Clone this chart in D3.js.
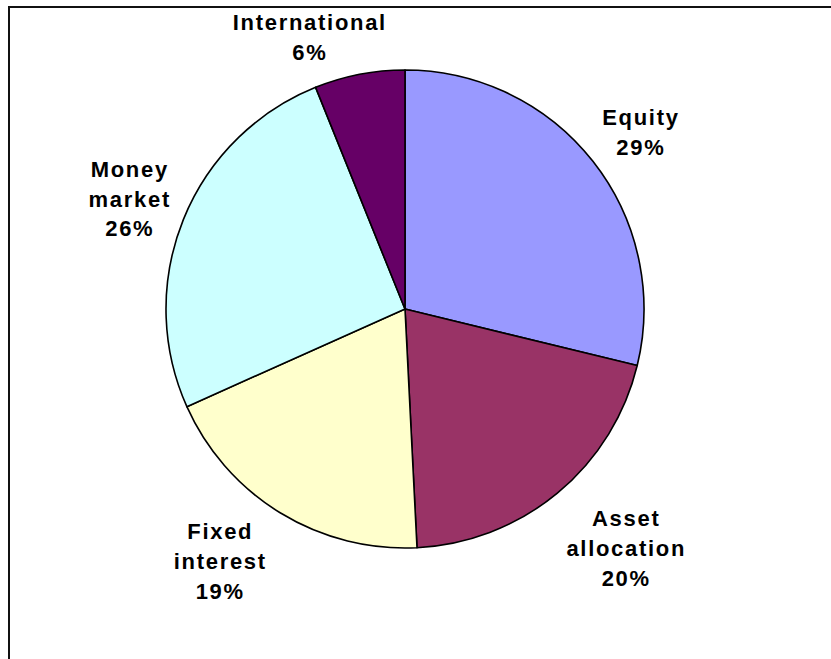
<!DOCTYPE html>
<html>
<head>
<meta charset="utf-8">
<script src="https://cdn.jsdelivr.net/npm/d3@7"></script>
<style>
  html, body { margin: 0; padding: 0; background: #fff; }
  svg { display: block; }
</style>
</head>
<body>
<div id="chart"></div>
<script>
const categories = ["Equity", "Asset allocation", "Fixed interest", "Money market", "International"];
const labelLines = [["Equity"], ["Asset", "allocation"], ["Fixed", "interest"], ["Money", "market"], ["International"]];
// labels show them rounded
const shares = [28.8, 20.4, 19.1, 25.6, 6.1];
const colors = ["#9999FF", "#993366", "#FFFFCC", "#CCFFFF", "#660066"];

// small hand nudges so the labels sit where Excel put them
const labelNudge = [[0, 9], [30, 8], [-28, -3], [3, 2], [-38, 23]];

const width = 831;
const height = 659;
const cx = 405;
const cy = 309;
const radius = 239;
const labelRadius = 300;
const lineHeight = 30;

const dataset = categories.map((c, i) => ({
    name: c,
    lines: labelLines[i],
    value: shares[i],
    color: colors[i],
    nudge: labelNudge[i]
}));

const svg = d3.select("#chart")
    .append("svg")
    .attr("width", width)
    .attr("height", height);

// chart frame, runs off the right and bottom edges
svg.append("rect")
    .attr("x", 9)
    .attr("y", 7)
    .attr("width", 900)
    .attr("height", 800)
    .attr("fill", "none")
    .attr("stroke", "#111")
    .attr("stroke-width", 2);

const pie = d3.pie()
    .value(d => d.value)
    .sort(null);

const arc = d3.arc()
    .innerRadius(0)
    .outerRadius(radius);

const labelArc = d3.arc()
    .innerRadius(labelRadius)
    .outerRadius(labelRadius);

const g = svg.append("g")
    .attr("transform", `translate(${cx}, ${cy})`);

const arcs = pie(dataset);

g.selectAll(".slice")
    .data(arcs)
    .enter()
    .append("path")
    .attr("class", "slice")
    .attr("d", arc)
    .attr("fill", d => d.data.color)
    .attr("stroke", "#000")
    .attr("stroke-width", 1.6)
    .attr("stroke-linejoin", "round");

const labels = g.selectAll(".label")
    .data(arcs)
    .enter()
    .append("text")
    .attr("class", "label")
    .attr("transform", d => {
        const [x, y] = labelArc.centroid(d);
        return `translate(${x + d.data.nudge[0]}, ${y + d.data.nudge[1]})`;
    })
    .attr("text-anchor", "middle")
    .style("font-family", "'Liberation Sans', Arial, sans-serif")
    .style("font-weight", "bold")
    .style("font-size", "22px")
    .style("letter-spacing", "1.7px")
    .attr("fill", "#000");

labels.each(function(d) {
    const lines = d.data.lines.concat([Math.round(d.data.value) + "%"]);
    const n = lines.length;
    d3.select(this).selectAll("tspan")
        .data(lines)
        .enter()
        .append("tspan")
        .attr("x", 0)
        .attr("y", (l, i) => (i - (n - 1) / 2) * lineHeight)
        .attr("dy", "0.35em")
        .text(l => l);
});
</script>
</body>
</html>
